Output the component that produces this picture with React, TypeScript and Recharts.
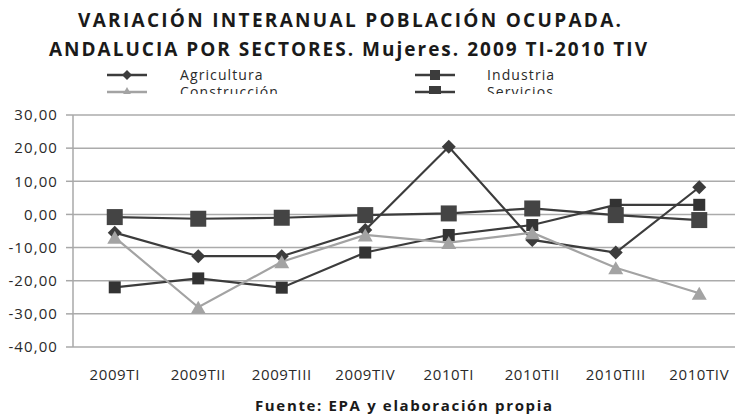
import React from 'react';
import { LineChart, Line, XAxis, YAxis, CartesianGrid, Legend, Customized } from 'recharts';

const quarters = ['2009TI', '2009TII', '2009TIII', '2009TIV', '2010TI', '2010TII', '2010TIII', '2010TIV'];
const agricultura = [-5.5, -12.6, -12.6, -4.7, 20.4, -7.7, -11.5, 8.2];
const industria = [-22.0, -19.3, -22.1, -11.5, -6.2, -3.2, 2.9, 2.9];
const construccion = [-6.9, -28.0, -14.3, -6.2, -8.5, -5.5, -16.1, -23.8];
const servicios = [-0.8, -1.3, -1.0, -0.2, 0.3, 1.8, -0.2, -1.7];
const yTicks = [-40, -30, -20, -10, 0, 10, 20, 30];
const boundaryTicks = [0, 1, 2, 3, 4, 5, 6, 7, 8];

const data = quarters.map((q, i) => ({
  q,
  agricultura: agricultura[i],
  industria: industria[i],
  construccion: construccion[i],
  servicios: servicios[i],
}));

const DARK = '#3c3c3c';
const LIGHT = '#a3a3a3';
const FONT = '"Open Sans", sans-serif';

const Diamond = (r: number, color: string) => (p: any) => {
  const { cx, cy, index } = p;
  if (cx == null || cy == null) return <g key={index} />;
  return <path key={index} d={`M${cx},${cy - r}L${cx + r},${cy}L${cx},${cy + r}L${cx - r},${cy}Z`} fill={color} stroke="none" />;
};
const Square = (s: number, color: string) => (p: any) => {
  const { cx, cy, index } = p;
  if (cx == null || cy == null) return <g key={index} />;
  return <rect key={index} x={cx - s / 2} y={cy - s / 2} width={s} height={s} fill={color} stroke="none" />;
};
const Triangle = (w: number, h: number, color: string) => (p: any) => {
  const { cx, cy, index } = p;
  if (cx == null || cy == null) return <g key={index} />;
  return <path key={index} d={`M${cx},${cy - h / 2}L${cx + w / 2},${cy + h / 2}L${cx - w / 2},${cy + h / 2}Z`} fill={color} stroke="none" />;
};

const legendItems = [
  { name: 'Agricultura', color: DARK, kind: 'diamond', x: 107, tx: 180, y: 13 },
  { name: 'Industria', color: DARK, kind: 'square', x: 415, tx: 487, y: 13 },
  { name: 'Construcción', color: LIGHT, kind: 'triangle', x: 107, tx: 180, y: 30 },
  { name: 'Servicios', color: DARK, kind: 'bigsquare', x: 415, tx: 487, y: 30 },
];

const LegendContent = () => (
  <div style={{ position: 'relative', width: 735, height: 32, overflow: 'hidden' }}>
    <svg width={735} height={32} style={{ position: 'absolute', left: 0, top: 0 }}>
      {legendItems.map((it) => {
        const cx = it.x + 20;
        let marker: React.ReactNode = null;
        if (it.kind === 'diamond') marker = <path d={`M${cx},${it.y - 5}L${cx + 5},${it.y}L${cx},${it.y + 5}L${cx - 5},${it.y}Z`} fill={it.color} />;
        if (it.kind === 'square') marker = <rect x={cx - 5} y={it.y - 5} width={10} height={10} fill={it.color} />;
        if (it.kind === 'bigsquare') marker = <rect x={cx - 6} y={it.y - 6} width={12} height={12} fill={it.color} />;
        if (it.kind === 'triangle') marker = <path d={`M${cx},${it.y - 5}L${cx + 5},${it.y + 4}L${cx - 5},${it.y + 4}Z`} fill={it.color} />;
        return (
          <g key={it.name}>
            <line x1={it.x} x2={it.x + 40} y1={it.y} y2={it.y} stroke={it.color} strokeWidth={2.5} />
            {marker}
            <text x={it.tx} y={it.y + 5} fontFamily={FONT} fontSize={14} letterSpacing={1.1} fill="#2a2a2a">{it.name}</text>
          </g>
        );
      })}
    </svg>
  </div>
);

const Texts = () => (
  <g>
    <text x={349.5} y={27} textAnchor="middle" fontFamily={FONT} fontWeight="bold" fontSize={19} fill="#1a1a1a" textLength={543} lengthAdjust="spacing">
      VARIACIÓN INTERANUAL POBLACIÓN OCUPADA.
    </text>
    <text x={348} y={56} textAnchor="middle" fontFamily={FONT} fontWeight="bold" fontSize={19} fill="#1a1a1a" textLength={598} lengthAdjust="spacing">
      ANDALUCIA POR SECTORES. Mujeres. 2009 TI-2010 TIV
    </text>
    <text x={403.5} y={411} textAnchor="middle" fontFamily={FONT} fontWeight="bold" fontSize={15} fill="#1a1a1a" textLength={297} lengthAdjust="spacing">
      Fuente: EPA y elaboración propia
    </text>
  </g>
);

const fmt = (v: number) => v.toFixed(2).replace('.', ',');

export default function App() {
  return (
    <div style={{ position: 'absolute', left: 0, top: 0, width: 735, height: 416, overflow: 'hidden', background: '#fff' }}>
      <LineChart width={741} height={416} data={data} margin={{ top: 115, right: 0, bottom: 0, left: 0 }}>
        <CartesianGrid vertical={false} stroke="#ababab" strokeWidth={1.5} />
        <XAxis
          xAxisId="b"
          type="number"
          domain={[0, 8]}
          ticks={boundaryTicks}
          height={0}
          tick={false}
          tickSize={6}
          axisLine={{ stroke: '#a8a8a8', strokeWidth: 1.5 }}
          tickLine={{ stroke: '#a8a8a8', strokeWidth: 1.5 }}
        />
        <XAxis
          dataKey="q"
          scale="band"
          height={69}
          axisLine={false}
          tickLine={false}
          tickSize={0}
          tickMargin={22}
          interval={0}
          tick={{ fontFamily: FONT, fontSize: 15, fill: '#2a2a2a', letterSpacing: 0.6 }}
        />
        <YAxis
          width={73}
          domain={[-40, 30]}
          ticks={yTicks}
          interval={0}
          tickFormatter={fmt}
          tickSize={7}
          tickMargin={8}
          axisLine={{ stroke: '#a8a8a8', strokeWidth: 1.5 }}
          tickLine={{ stroke: '#a8a8a8', strokeWidth: 1.5 }}
          tick={{ fontFamily: FONT, fontSize: 15, fill: '#2a2a2a', letterSpacing: 1.1 }}
        />
        <Legend verticalAlign="middle" layout="horizontal" align="center" wrapperStyle={{ position: 'absolute', top: 62, left: 0, width: 735, height: 32 }} content={() => <LegendContent />} />
        <Line dataKey="agricultura" name="Agricultura" stroke={DARK} strokeWidth={2.2} dot={Diamond(7, DARK)} isAnimationActive={false} />
        <Line dataKey="industria" name="Industria" stroke={DARK} strokeWidth={2.2} dot={Square(12, '#333')} isAnimationActive={false} />
        <Line dataKey="construccion" name="Construcción" stroke={LIGHT} strokeWidth={2.2} dot={Triangle(15, 13, LIGHT)} isAnimationActive={false} />
        <Line dataKey="servicios" name="Servicios" stroke={DARK} strokeWidth={2.2} dot={Square(16, '#444')} isAnimationActive={false} />
        <Customized component={Texts} />
      </LineChart>
    </div>
  );
}
